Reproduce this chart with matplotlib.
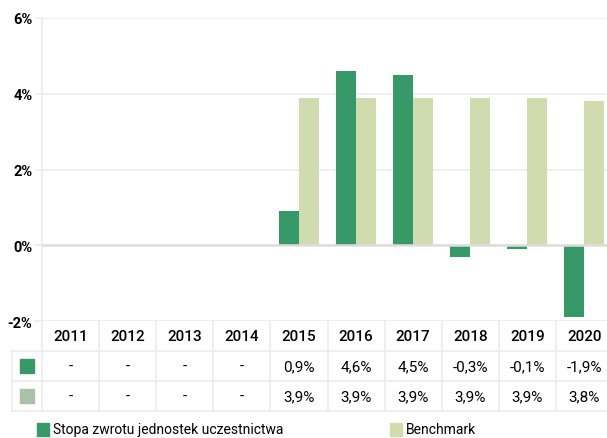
import matplotlib.pyplot as plt
from matplotlib.patches import Rectangle

years = ['2011', '2012', '2013', '2014', '2015', '2016', '2017', '2018', '2019', '2020']
fund = [None, None, None, None, 0.9, 4.6, 4.5, -0.3, -0.1, -1.9]
bench = [None, None, None, None, 3.9, 3.9, 3.9, 3.9, 3.9, 3.8]
fund_label = 'Stopa zwrotu jednostek uczestnictwa'
bench_label = 'Benchmark'

GREEN = '#359a68'
LIGHT = '#d1dcae'
GREY_GREEN = '#a9c1a9'
GRID = '#ececec'

plt.rcParams['font.family'] = ['Roboto', 'DejaVu Sans']

W, H = 607, 439
fig = plt.figure(figsize=(W / 100, H / 100), dpi=100)


def px(x0, y0, x1, y1):
    # pixel box (top-left origin) -> figure fraction rect
    return [x0 / W, 1 - y1 / H, (x1 - x0) / W, (y1 - y0) / H]


ax = fig.add_axes(px(42, 19, 613, 322))
n = len(years)
xs = list(range(n))
bw = 0.35
for i in xs:
    if fund[i] is not None:
        ax.bar(i - bw / 2, fund[i], width=bw, color=GREEN, zorder=3)
    if bench[i] is not None:
        ax.bar(i + bw / 2, bench[i], width=bw, color=LIGHT, zorder=3)
ax.set_xlim(-0.5, n - 0.5)
ax.set_ylim(-2, 6)
ax.set_yticks([-2, 0, 2, 4, 6])
ax.set_yticklabels(['-2%', '0%', '2%', '4%', '6%'], fontsize=10.5, fontweight='bold')
ax.set_xticks([])
ax.grid(axis='y', color=GRID, linewidth=1.2, zorder=0)
ax.axhline(0, color='#dddddd', linewidth=1.8, zorder=4)
ax.tick_params(axis='y', length=5, width=1.2, color=GRID, pad=2)
for s in ['top', 'right', 'bottom']:
    ax.spines[s].set_visible(False)
ax.spines['left'].set_color(GRID)
ax.spines['left'].set_linewidth(1.2)

# table below the chart
tx0 = -0.5 - 30 / 57.1
tab = fig.add_axes(px(12, 322, 613, 412))
tab.set_xlim(tx0, n - 0.5)
tab.set_ylim(3, 0)
tab.axis('off')
for b in range(n + 1):
    tab.plot([b - 0.5, b - 0.5], [0, 3], color=GRID, lw=1.2, clip_on=False)
tab.plot([tx0, tx0], [1, 3], color=GRID, lw=1.2, clip_on=False)
for r in [1, 2, 3]:
    tab.plot([tx0, n - 0.5], [r, r], color=GRID, lw=1.2, clip_on=False)


def fmt(v):
    return '-' if v is None else ('%.1f%%' % v).replace('.', ',')


for i in xs:
    tab.text(i, 0.5, years[i], ha='center', va='center', fontsize=11, fontweight='medium')
    tab.text(i, 1.5, fmt(fund[i]), ha='center', va='center', fontsize=11)
    tab.text(i, 2.5, fmt(bench[i]), ha='center', va='center', fontsize=11)
sq_c = (tx0 - 0.5) / 2
tab.add_patch(Rectangle((sq_c - 0.115, 1.28), 0.23, 0.44, color=GREEN, clip_on=False))
tab.add_patch(Rectangle((sq_c - 0.115, 2.28), 0.23, 0.44, color=GREY_GREEN, clip_on=False))

# legend
fig.patches.append(Rectangle((37 / W, 1 - 437 / H), 12 / W, 13 / H, color=GREEN,
                             transform=fig.transFigure))
fig.text(53 / W, 1 - 430 / H, fund_label, fontsize=10, va='center')
fig.patches.append(Rectangle((390 / W, 1 - 437 / H), 12 / W, 13 / H, color=LIGHT,
                             transform=fig.transFigure))
fig.text(406 / W, 1 - 430 / H, bench_label, fontsize=10, va='center')

fig.savefig('out.png', dpi=100)
